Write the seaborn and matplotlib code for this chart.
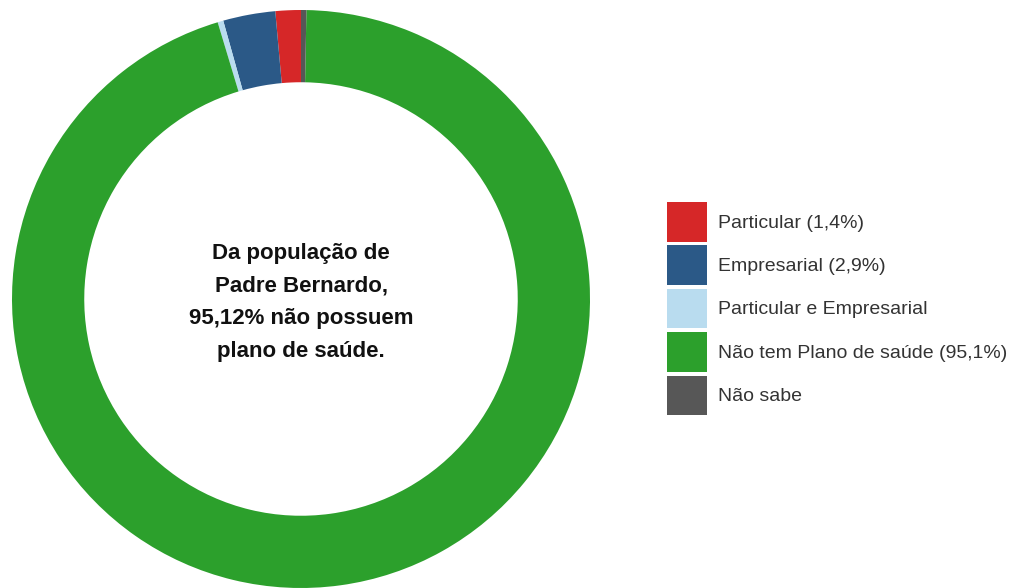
import matplotlib
matplotlib.use("Agg")
import matplotlib.pyplot as plt
import seaborn as sns
from matplotlib.patches import Patch

categories = ["Particular", "Empresarial", "Particular e Empresarial",
              "Não tem Plano de saúde", "Não sabe"]
values = [1.42, 2.92, 0.32, 95.12, 0.30]
legend_labels = ["Particular (1,4%)", "Empresarial (2,9%)", "Particular e Empresarial",
                 "Não tem Plano de saúde (95,1%)", "Não sabe"]
colors = ["#d62728", "#2b5987", "#b9dcef", "#2ca02c", "#575757"]
center_text = "Da população de\nPadre Bernardo,\n95,12% não possuem\nplano de saúde."

sns.set_theme(style="white")
plt.rcParams["font.family"] = ["Liberation Sans", "DejaVu Sans"]

W, H = 1021, 588
fig = plt.figure(figsize=(W / 100, H / 100), dpi=100)
fig.patch.set_facecolor("white")

# pie axes in pixel geometry
cx, cy, r = 301, 299, 289
ax = fig.add_axes([(cx - r) / W, (H - cy - r) / H, 2 * r / W, 2 * r / H])
wedges, _ = ax.pie(values, colors=colors, startangle=90, counterclock=True,
                   radius=1.0, wedgeprops=dict(width=0.25, linewidth=0))
ax.set_xlim(-1, 1)
ax.set_ylim(-1, 1)
ax.set_aspect("equal")
ax.axis("off")

ax.text(0, -0.012, center_text, ha="center", va="center", fontsize=16,
        fontweight="bold", color="#111111", linespacing=1.73)

handles = [Patch(facecolor=c, edgecolor="none") for c in colors]
leg = fig.legend(handles, legend_labels, loc="upper left",
                 bbox_to_anchor=(667 / W, 1 - 202 / H), frameon=False,
                 fontsize=14, handlelength=2.05, handleheight=2.75,
                 labelspacing=0.2, handletextpad=0.55, borderpad=0,
                 borderaxespad=0)
for t in leg.get_texts():
    t.set_color("#333333")

fig.savefig("out.png", dpi=100, facecolor="white")
